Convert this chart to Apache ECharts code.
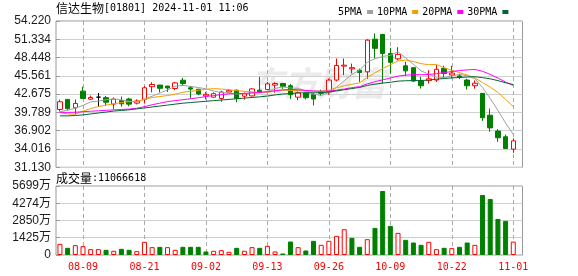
<!DOCTYPE html>
<html><head><meta charset="utf-8">
<script src="https://cdn.jsdelivr.net/npm/echarts@6/dist/echarts.min.js"></script>
<style>html,body{margin:0;padding:0;background:#fff}#c{width:578px;height:276px}</style>
</head><body><div id="c"></div>
<script>
const stockName = '信达生物';
const stockCode = '01801';
const stamp = '2024-11-01 11:06';

const dates = [
 '08-06','08-07','08-08','08-09','08-12','08-13','08-14','08-15','08-16','08-19',
 '08-20','08-21','08-22','08-23','08-26','08-27','08-28','08-29','08-30','09-02',
 '09-03','09-04','09-05','09-09','09-10','09-11','09-12','09-13','09-16','09-17',
 '09-19','09-20','09-23','09-24','09-25','09-26','09-27','09-30','10-02','10-03',
 '10-04','10-07','10-08','10-09','10-10','10-14','10-15','10-16','10-17','10-18',
 '10-21','10-22','10-23','10-24','10-25','10-28','10-29','10-30','10-31','11-01'];

const opens = [
 40.26,41.85,40.52,43.15,41.88,42.2,42.12,41.1,41.68,41.9,
 41.26,41.84,43.85,44.1,43.95,43.57,44.88,43.68,43.45,42.4,
 42.2,42.0,43.0,43.3,42.35,42.4,43.3,43.4,44.1,44.36,
 44.0,42.2,42.85,42.6,43.0,43.05,44.9,47.1,46.67,46.45,
 46.2,51.35,52.1,49.1,48.25,47.15,46.85,44.75,44.8,44.9,
 46.75,45.7,45.55,44.9,44.0,42.8,39.35,36.85,35.95,34.0];
const closes = [
 41.47,40.4,41.2,42.0,42.15,42.2,41.4,41.9,41.15,41.1,
 41.6,43.68,44.2,43.6,43.65,44.45,44.35,43.47,42.7,42.65,
 42.75,43.0,43.22,42.0,42.72,43.5,43.05,44.3,44.35,43.9,
 42.6,42.9,42.12,41.9,42.8,44.9,47.2,47.25,46.85,46.1,
 51.2,49.9,49.1,47.7,48.95,46.35,44.75,44.0,45.1,46.6,
 45.95,46.0,45.3,44.0,44.4,38.95,37.35,35.8,34.1,35.3];
const lows = [
 39.95,40.1,39.45,41.9,41.75,40.7,40.85,40.3,40.7,40.75,
 41.05,41.2,42.95,42.95,43.0,43.3,43.95,42.0,42.5,41.85,
 42.1,41.5,42.95,41.4,41.8,42.3,42.95,43.3,42.9,43.5,
 41.9,41.7,41.85,40.9,42.4,42.6,44.7,45.7,45.95,44.6,
 45.1,48.3,44.35,45.9,48.0,45.55,44.6,43.55,44.35,44.6,
 45.25,45.15,45.05,43.4,43.55,38.45,36.75,35.15,34.05,33.4];
const highs = [
 41.8,41.9,41.85,43.85,42.45,42.85,42.4,42.15,42.3,42.1,
 41.85,43.95,44.55,44.15,44.0,44.62,45.25,43.95,43.5,43.0,
 42.95,43.2,43.5,43.4,42.95,43.65,45.4,44.6,44.55,44.4,
 44.3,43.1,42.9,42.9,43.4,45.15,48.3,48.3,47.5,46.7,
 51.35,52.25,52.2,50.0,50.1,47.8,46.9,45.4,46.45,47.25,
 47.15,47.15,45.9,45.1,44.85,42.85,40.4,37.15,36.3,35.7];
const volumes = [
 9220000,5930000,8130000,7300000,4830000,4830000,4280000,3460000,5110000,4280000,
 3190000,10870000,6480000,6750000,6480000,4280000,6750000,6750000,6750000,2910000,
 3460000,4010000,2640000,5930000,3460000,6480000,5930000,7580000,2910000,1260000,
 11140000,6480000,3730000,11700000,8400000,11700000,15810000,21310000,14170000,6750000,
 13070000,22400000,52880000,24050000,18280000,12520000,10320000,8400000,10870000,4830000,
 5930000,5660000,6750000,10320000,8400000,49580000,46290000,29810000,28170000,11066618];

const ma5 = [
 39.9,40.15,40.45,40.9,41.44,41.59,41.79,41.93,41.76,41.55,
 41.43,41.89,42.35,42.84,43.35,43.92,44.05,43.90,43.72,43.52,
 43.18,42.91,42.86,42.72,42.74,42.89,42.90,43.11,43.58,43.82,
 43.64,43.61,43.17,42.68,42.46,42.92,43.78,44.81,45.8,46.46,
 47.72,48.26,48.63,48.8,49.37,48.4,47.37,46.35,45.83,45.36,
 45.28,45.53,45.79,45.57,45.13,43.73,42.0,40.1,38.12,36.3];
const ma10 = [
 39.78,39.55,39.5,40.0,40.4,40.7,40.95,41.15,41.35,41.50,
 41.51,41.84,42.14,42.30,42.45,42.67,42.97,43.13,43.28,43.44,
 43.55,43.48,43.38,43.22,43.13,43.04,42.91,42.99,43.15,43.28,
 43.26,43.25,43.14,43.13,43.14,43.28,43.70,43.99,44.24,44.46,
 45.32,46.02,46.72,47.30,47.92,48.06,47.82,47.49,47.32,47.37,
 46.84,46.45,46.07,45.70,45.25,44.51,43.77,42.95,41.85,40.72];
const ma20 = [
 39.8,39.8,39.82,39.9,39.98,40.05,40.12,40.2,40.25,40.32,
 40.45,40.7,41.0,41.25,41.5,41.65,41.8,41.95,42.1,42.3,
 42.45,42.6,42.72,42.76,42.79,42.85,42.94,43.06,43.22,43.36,
 43.41,43.37,43.26,43.18,43.14,43.16,43.30,43.49,43.70,43.87,
 44.29,44.64,44.93,45.22,45.53,45.67,45.76,45.74,45.78,45.91,
 46.08,46.24,46.40,46.50,46.58,46.28,45.79,45.22,44.58,44.04];
const ma30 = [
 39.25,39.25,39.3,39.4,39.55,39.7,39.85,40.0,40.1,40.2,
 40.35,40.5,40.65,40.8,40.95,41.1,41.25,41.35,41.45,41.55,
 41.65,41.75,41.85,41.95,42.05,42.15,42.25,42.38,42.55,42.7,
 42.77,42.86,42.89,42.89,42.91,43.00,43.19,43.37,43.56,43.73,
 44.05,44.25,44.42,44.55,44.73,44.79,44.81,44.82,44.90,45.04,
 45.14,45.24,45.31,45.38,45.43,45.28,45.09,44.81,44.47,44.18];

const priceTicks = ['31.130','34.016','36.902','39.789','42.675','45.561','48.448','51.334','54.220'];
const volTicks = ['0','1425万','2850万','4274万','5699万'];
const xLabelDates = ['08-09','08-21','09-02','09-13','09-26','10-09','10-22','11-01'];
const maNames = ['5PMA','10PMA','20PMA','30PMA'];

const UP = '#ff0000', DOWN = '#008000';
const MA_COLORS = ['#a0a0a0', '#f0a000', '#ff00ff', '#006633'];
const MONO = "'DejaVu Sans Mono', monospace";
const CJK = "'Noto Sans CJK SC'";

const xTickIdx = xLabelDates.map(d => dates.indexOf(d));
const priceVals = priceTicks.map(parseFloat);
const volVals = volTicks.map(s => parseFloat(s) * (s.indexOf('万') >= 0 ? 10000 : 1));
const pick = (vals, labels) => v => { const k = vals.findIndex(p => Math.abs(p - v) < 1e-6 * Math.max(1, Math.abs(p))); return k >= 0 ? labels[k] : ''; };

const candleData = dates.map((d, i) => {
  const it = { value: [i, opens[i], closes[i], lows[i], highs[i]] };
  if (opens[i] === closes[i]) it.itemStyle = { color: '#000', borderColor: '#000' };
  return it;
});
const volData = dates.map((d, i) => {
  const up = i === 0 ? closes[i] >= opens[i] : closes[i] >= closes[i - 1];
  return { value: [i, volumes[i]], itemStyle: up ? { color: '#fff', borderColor: UP, borderWidth: 1 } : { color: DOWN, borderColor: DOWN, borderWidth: 1 } };
});
const maArr = [ma5, ma10, ma20, ma30];

const X_MIN = -0.514, X_MAX = 60.2;
function xAxisCfg(g, showLabel) {
  return {
    gridIndex: g, type: 'value', min: X_MIN, max: X_MAX,
    axisLine: { show: false },
    axisTick: { show: false, customValues: xTickIdx },
    axisLabel: { show: showLabel, customValues: xTickIdx, formatter: v => dates[Math.round(v)], color: '#ff0000', fontFamily: MONO, fontSize: 10, margin: 7 },
    splitLine: { show: true, lineStyle: { color: '#aaaaaa', type: [4, 3], width: 1 } }
  };
}

const chart = echarts.init(document.getElementById('c'), null, { renderer: 'canvas' });
chart.setOption({
  animation: false,
  grid: [
    { left: 56, right: 55.5, top: 21, height: 146.3, show: true, borderColor: '#999', borderWidth: 1 },
    { left: 56, right: 55.5, top: 186, height: 69, show: true, borderColor: '#999', borderWidth: 1 }
  ],
  legend: {
    data: maNames, left: 333, top: 2, align: 'right', icon: 'rect', itemWidth: 6, itemHeight: 4, itemGap: 4,
    selectedMode: false, textStyle: { fontFamily: MONO, fontSize: 10, color: '#000' }
  },
  graphic: [
    { type: 'text', left: 250, top: 66, z: -1, silent: true,
      style: { text: '东方财富', fontSize: 34, fontWeight: 'bold', fontStyle: 'italic', fontFamily: CJK, fill: '#ebebeb' } },
    { type: 'text', left: 56, top: 2,
      style: { text: '{a|' + stockName + '}{b|[' + stockCode + '] ' + stamp + '}',
        rich: { a: { fontSize: 12, fontFamily: CJK, fill: '#000' }, b: { fontSize: 10, fontFamily: MONO, fill: '#000' } } } },
    { type: 'text', left: 56, top: 172,
      style: { text: '{a|成交量}{b|:' + volumes[volumes.length - 1] + '}',
        rich: { a: { fontSize: 12, fontFamily: CJK, fill: '#000' }, b: { fontSize: 10, fontFamily: MONO, fill: '#000' } } } }
  ],
  xAxis: [xAxisCfg(0, false), xAxisCfg(1, true)],
  yAxis: [
    { gridIndex: 0, type: 'value', min: priceVals[0], max: priceVals[priceVals.length - 1],
      axisLine: { show: false },
      axisTick: { show: true, length: 4, customValues: priceVals, lineStyle: { color: '#999' } },
      axisLabel: { customValues: priceVals, formatter: pick(priceVals, priceTicks), color: '#1a1a1a', fontFamily: "'Liberation Sans', Arial", fontSize: 12, margin: 5 },
      splitLine: { show: true, lineStyle: { color: '#d0d0d0', width: 1 } } },
    { gridIndex: 1, type: 'value', min: volVals[0], max: volVals[volVals.length - 1],
      axisLine: { show: false },
      axisTick: { show: true, length: 4, customValues: volVals, lineStyle: { color: '#999' } },
      axisLabel: { customValues: volVals, formatter: pick(volVals, volTicks), color: '#1a1a1a', fontFamily: "'Liberation Sans', 'Noto Sans CJK SC', Arial", fontSize: 12, margin: 5 },
      splitLine: { show: true, lineStyle: { color: '#d0d0d0', width: 1 } } }
  ],
  series: [
    { type: 'candlestick', name: 'K', xAxisIndex: 0, yAxisIndex: 0, encode: { x: 0, y: [1, 2, 3, 4] },
      barWidth: 5, z: 3,
      itemStyle: { color: '#fff', color0: DOWN, borderColor: UP, borderColor0: DOWN, borderWidth: 1 },
      data: candleData },
    ...maNames.map((n, k) => ({
      type: 'line', name: n, xAxisIndex: 0, yAxisIndex: 0, symbol: 'none', z: 4,
      color: MA_COLORS[k], lineStyle: { color: MA_COLORS[k], width: 1 },
      data: maArr[k].map((v, i) => [i, v])
    })),
    { type: 'bar', name: 'VOL', xAxisIndex: 1, yAxisIndex: 1, barWidth: 5, z: 3, encode: { x: 0, y: 1 }, data: volData }
  ]
});
</script></body></html>
